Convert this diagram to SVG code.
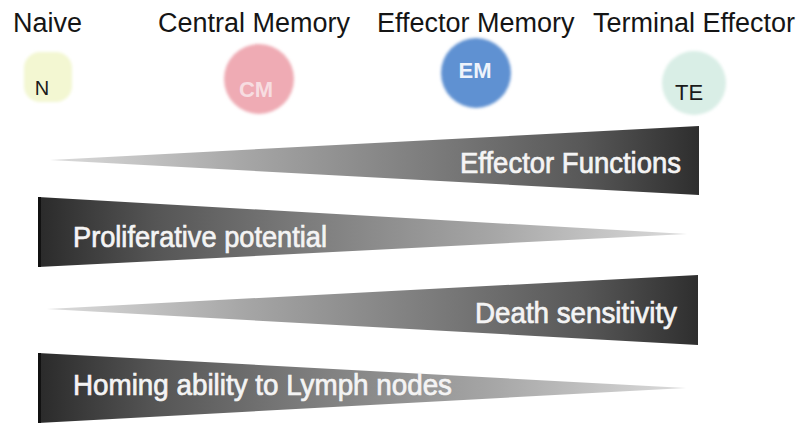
<svg xmlns="http://www.w3.org/2000/svg" width="805" height="426" viewBox="0 0 805 426">
  <style>
    .hdr { font-family: "Liberation Sans", Arial, sans-serif; font-size: 27px; fill: #151515; }
    .bar { font-family: "Liberation Sans", Arial, sans-serif; font-size: 29px; fill: #f4f4f4; stroke: #f4f4f4; stroke-width: 0.7; }
    .cell { font-family: "Liberation Sans", Arial, sans-serif; text-anchor: middle; }
  </style>
  <defs>
    <filter id="soft" x="-20%" y="-20%" width="140%" height="140%">
      <feGaussianBlur stdDeviation="1.6"/>
    </filter>
    <linearGradient id="gradR" gradientUnits="userSpaceOnUse" x1="50" y1="0" x2="699" y2="0">
      <stop offset="0" stop-color="#dcdcdc"/>
      <stop offset="0.3" stop-color="#a6a6a6"/>
      <stop offset="0.6" stop-color="#7a7a7a"/>
      <stop offset="0.82" stop-color="#585858"/>
      <stop offset="1" stop-color="#2e2e2e"/>
    </linearGradient>
    <linearGradient id="gradL" gradientUnits="userSpaceOnUse" x1="38" y1="0" x2="687" y2="0">
      <stop offset="0" stop-color="#2a2a2a"/>
      <stop offset="0.18" stop-color="#555"/>
      <stop offset="0.4" stop-color="#7a7a7a"/>
      <stop offset="0.7" stop-color="#a6a6a6"/>
      <stop offset="1" stop-color="#dcdcdc"/>
    </linearGradient>
  </defs>
  <rect width="805" height="426" fill="#ffffff"/>

  <g id="naive">
    <text class="hdr" x="13" y="32">Naive</text>
    <rect x="24" y="52" width="48" height="50" rx="16" fill="#f3f7d2" filter="url(#soft)"/>
    <text class="cell" x="42" y="95" font-size="20" fill="#1a1a1a">N</text>
  </g>

  <g id="central-memory">
    <text class="hdr" x="158" y="32">Central Memory</text>
    <circle cx="259" cy="79" r="35" fill="#efabb4" filter="url(#soft)"/>
    <text class="cell" x="256" y="97" font-size="22" font-weight="bold" fill="#f7dde1">CM</text>
  </g>

  <g id="effector-memory">
    <text class="hdr" x="377" y="32">Effector Memory</text>
    <circle cx="476" cy="73" r="35" fill="#5f91d2" filter="url(#soft)"/>
    <text class="cell" x="475" y="78" font-size="22" font-weight="bold" fill="#eef3fb">EM</text>
  </g>

  <g id="terminal-effector">
    <text class="hdr" x="593" y="32">Terminal Effector</text>
    <circle cx="694" cy="83" r="32" fill="#d9eee6" filter="url(#soft)"/>
    <text class="cell" x="689" y="100" font-size="22" fill="#1a1a1a">TE</text>
  </g>

  <g id="effector-functions">
    <polygon points="50,160 699,126 699,195" fill="url(#gradR)"/>
    <text class="bar" x="460" y="173" textLength="221" lengthAdjust="spacingAndGlyphs">Effector Functions</text>
  </g>

  <g id="proliferative-potential">
    <polygon points="38,197 38,267 687,234" fill="url(#gradL)"/>
    <rect x="38" y="197" width="3" height="70" fill="#111"/>
    <text class="bar" x="73" y="247" textLength="254" lengthAdjust="spacingAndGlyphs">Proliferative potential</text>
  </g>

  <g id="death-sensitivity">
    <polygon points="47,309 698,275 698,345" fill="url(#gradR)"/>
    <text class="bar" x="475" y="323" textLength="202" lengthAdjust="spacingAndGlyphs">Death sensitivity</text>
  </g>

  <g id="homing-ability">
    <polygon points="38,353 38,423 686,388" fill="url(#gradL)"/>
    <rect x="38" y="353" width="3" height="70" fill="#111"/>
    <text class="bar" x="73" y="395" textLength="379" lengthAdjust="spacingAndGlyphs">Homing ability to Lymph nodes</text>
  </g>

  <g id="connectors"></g>
</svg>
